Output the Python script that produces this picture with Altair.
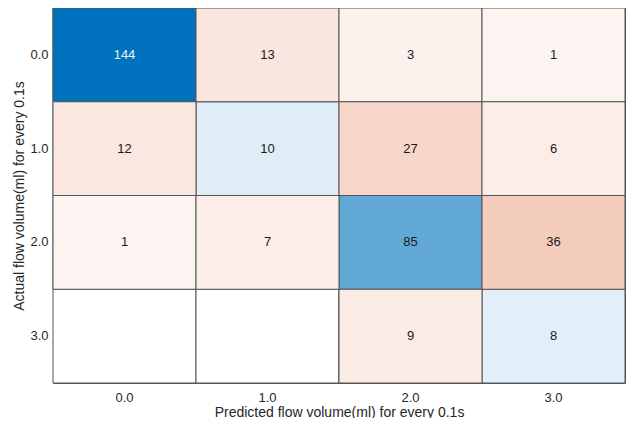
import altair as alt
import pandas as pd

actual_labels = ["0.0", "1.0", "2.0", "3.0"]
predicted_labels = ["0.0", "1.0", "2.0", "3.0"]
counts = [
    [144, 13, 3, 1],
    [12, 10, 27, 6],
    [1, 7, 85, 36],
    [0, 0, 9, 8],
]

rows = []
for i, a in enumerate(actual_labels):
    for j, p in enumerate(predicted_labels):
        rows.append({"actual": a, "predicted": p, "value": counts[i][j], "diag": i == j})
df = pd.DataFrame(rows)
vmax = max(max(r) for r in counts)
vmin = -9.2  # small non-zero counts still get a faint tint

FONT = "Liberation Sans"
x_enc = alt.X("predicted:N", sort=predicted_labels, scale=alt.Scale(paddingInner=0, paddingOuter=0),
              axis=alt.Axis(title="Predicted flow volume(ml) for every 0.1s", labelAngle=0, ticks=False,
                            domain=False, labelPadding=8, titlePadding=1, labelFontSize=13,
                            titleFontSize=14, titleFontWeight="normal", labelColor="#262626",
                            titleColor="#262626", labelFont=FONT, titleFont=FONT))
y_enc = alt.Y("actual:N", sort=actual_labels, scale=alt.Scale(paddingInner=0, paddingOuter=0),
              axis=alt.Axis(title="Actual flow volume(ml) for every 0.1s", ticks=False, domain=False,
                            labelPadding=5, titlePadding=3, labelFontSize=13, titleFontSize=14,
                            titleFontWeight="normal", labelColor="#262626", titleColor="#262626",
                            labelFont=FONT, titleFont=FONT))

base = alt.Chart(df)

white = base.mark_rect(fill="white", stroke="#555555", strokeWidth=1).encode(x=x_enc, y=y_enc)

diag = base.transform_filter("datum.diag && datum.value > 0").mark_rect(stroke="#555555", strokeWidth=1).encode(
    x=x_enc, y=y_enc,
    color=alt.Color("value:Q", scale=alt.Scale(domain=[vmin, vmax], range=["#ffffff", "#0072BD"], interpolate="rgb"),
                    legend=None),
)
off = base.transform_filter("!datum.diag && datum.value > 0").mark_rect(stroke="#555555", strokeWidth=1).encode(
    x=x_enc, y=y_enc,
    color=alt.Color("value:Q", scale=alt.Scale(domain=[vmin, vmax], range=["#ffffff", "#D95319"], interpolate="rgb"),
                    legend=None),
)
text = base.transform_filter("datum.value > 0").mark_text(font=FONT, fontSize=13).encode(
    x=x_enc, y=y_enc,
    text="value:Q",
    color=alt.condition("datum.value > 100", alt.value("#E8F2FA"), alt.value("#1a1a1a")),
)

chart = alt.layer(white, diag, off, text).resolve_scale(color="independent").properties(
    width=572, height=375,
    autosize=alt.AutoSizeParams(type="none"),
    padding={"left": 45, "top": 0, "right": 6, "bottom": 35},
).configure_view(stroke="#555555", strokeWidth=1)

chart.save("out.html", embed_options={"renderer": "svg", "actions": False})
